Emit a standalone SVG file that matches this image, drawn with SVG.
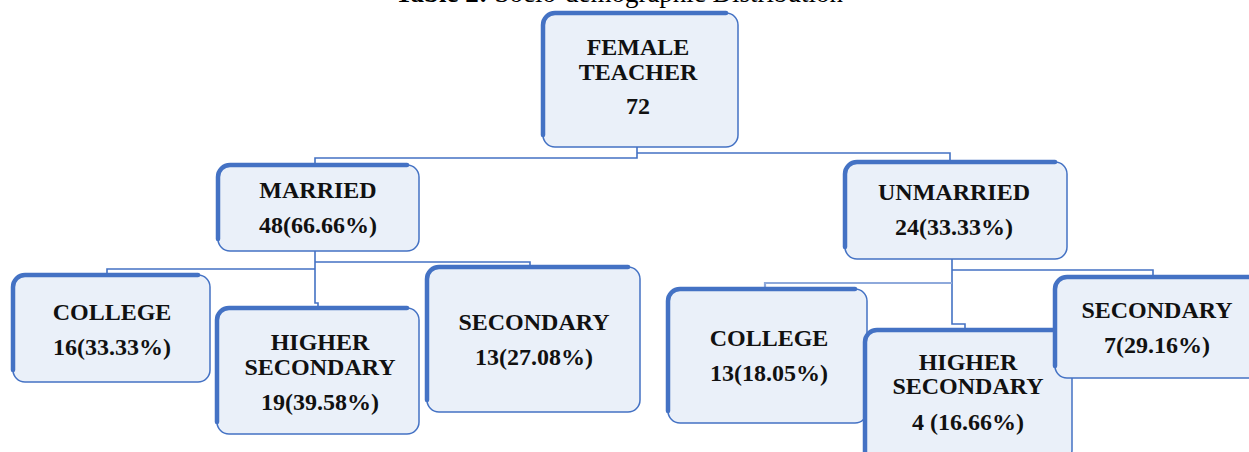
<svg xmlns="http://www.w3.org/2000/svg" width="1249" height="452" viewBox="0 0 1249 452">
<style>
.box{fill:#EAF0F9;stroke:#4472C4;stroke-width:1.5}
.edge{fill:none;stroke:#4472C4;stroke-width:4.5;stroke-linecap:round}
.conn{fill:none;stroke:#4472C4;stroke-width:1.6}
.conn2{fill:none;stroke:#8EA9DB;stroke-width:2.2}
.t{font-family:"Liberation Serif","Times New Roman",serif;font-weight:bold;font-size:24px;fill:#111;text-anchor:middle}
.title{font-family:"Liberation Serif","Times New Roman",serif;font-size:27px;fill:#000;text-anchor:middle}
</style>
<rect width="1249" height="452" fill="#fff"/>
<text class="title" x="619" y="2"><tspan font-weight="bold">Table 2:</tspan> Socio-demographic Distribution</text>
<g id="connectors">
<path class="conn" d="M637 147 V158 H315 V165"/>
<path class="conn" d="M637 153 H950 V162"/>
<path class="conn" d="M315 251 V303 H318 V308"/>
<path class="conn" d="M315 262 H530 V267"/>
<path class="conn" d="M315 269 H107 V275"/>
<path class="conn" d="M952 259 V324 H965 V330"/>
<path class="conn" d="M952 270 H1153 V277"/>
<path class="conn2" d="M952 283 H765 V289"/>
</g>
<g id="female-teacher">
<rect class="box" x="543" y="13" width="195" height="134" rx="12"/>
<path class="edge" d="M543 135 V25 A12 12 0 0 1 555 13 H726"/>
<text class="t" x="638" y="55">FEMALE</text>
<text class="t" x="638" y="80">TEACHER</text>
<text class="t" x="638" y="114">72</text>
</g>
<g id="married">
<rect class="box" x="218" y="165" width="201" height="86" rx="12"/>
<path class="edge" d="M218 239 V177 A12 12 0 0 1 230 165 H407"/>
<text class="t" x="318" y="198">MARRIED</text>
<text class="t" x="318" y="233">48(66.66%)</text>
</g>
<g id="unmarried">
<rect class="box" x="845" y="162" width="222" height="97" rx="12"/>
<path class="edge" d="M845 247 V174 A12 12 0 0 1 857 162 H1055"/>
<text class="t" x="954" y="200">UNMARRIED</text>
<text class="t" x="954" y="235">24(33.33%)</text>
</g>
<g id="college-married">
<rect class="box" x="13" y="275" width="197" height="107" rx="12"/>
<path class="edge" d="M13 370 V287 A12 12 0 0 1 25 275 H198"/>
<text class="t" x="112" y="320">COLLEGE</text>
<text class="t" x="112" y="355">16(33.33%)</text>
</g>
<g id="higher-secondary-married">
<rect class="box" x="217" y="308" width="202" height="126" rx="12"/>
<path class="edge" d="M217 422 V320 A12 12 0 0 1 229 308 H407"/>
<text class="t" x="320" y="350">HIGHER</text>
<text class="t" x="320" y="375">SECONDARY</text>
<text class="t" x="320" y="410">19(39.58%)</text>
</g>
<g id="secondary-married">
<rect class="box" x="427" y="267" width="213" height="145" rx="12"/>
<path class="edge" d="M427 400 V279 A12 12 0 0 1 439 267 H628"/>
<text class="t" x="534" y="330">SECONDARY</text>
<text class="t" x="534" y="365">13(27.08%)</text>
</g>
<g id="college-unmarried">
<rect class="box" x="668" y="289" width="199" height="134" rx="12"/>
<path class="edge" d="M668 411 V301 A12 12 0 0 1 680 289 H855"/>
<text class="t" x="769" y="346">COLLEGE</text>
<text class="t" x="769" y="381">13(18.05%)</text>
</g>
<g id="higher-secondary-unmarried">
<rect class="box" x="865" y="330" width="207" height="132" rx="12"/>
<path class="edge" d="M865 462 V342 A12 12 0 0 1 877 330 H1060"/>
<text class="t" x="968" y="370">HIGHER</text>
<text class="t" x="968" y="394">SECONDARY</text>
<text class="t" x="968" y="430">4 (16.66%)</text>
</g>
<g id="secondary-unmarried">
<rect class="box" x="1055" y="277" width="210" height="101" rx="12"/>
<path class="edge" d="M1055 366 V289 A12 12 0 0 1 1067 277 H1253"/>
<text class="t" x="1157" y="318">SECONDARY</text>
<text class="t" x="1157" y="353">7(29.16%)</text>
</g>
</svg>
